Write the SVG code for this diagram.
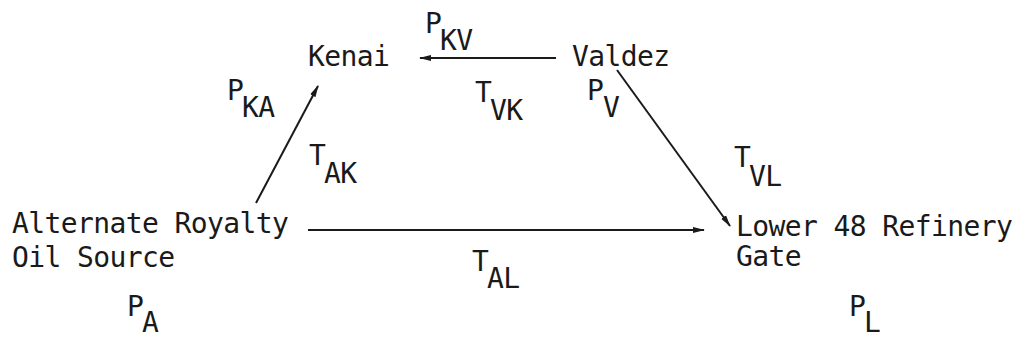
<svg xmlns="http://www.w3.org/2000/svg" width="1015" height="340" viewBox="0 0 1015 340">
  <style>
    text { font-family: "DejaVu Sans Mono", "Liberation Mono", monospace; font-size: 28px; fill: #1a1a1a; letter-spacing: -0.6px; }
    .conn { stroke: #1a1a1a; stroke-width: 2; fill: none; }
  </style>
  <defs>
    <marker id="arr" viewBox="0 0 12 8" refX="11" refY="4" markerWidth="12" markerHeight="8" markerUnits="userSpaceOnUse" orient="auto">
      <path d="M0,1 L12,4 L0,7 Z" fill="#1a1a1a"/>
    </marker>
  </defs>
  <rect width="1015" height="340" fill="#ffffff"/>

  <g id="connectors">
    <line class="conn" x1="556" y1="58" x2="420" y2="58" marker-end="url(#arr)"/>
    <line class="conn" x1="256" y1="203" x2="318" y2="86" marker-end="url(#arr)"/>
    <line class="conn" x1="617" y1="70" x2="730" y2="226" marker-end="url(#arr)"/>
    <line class="conn" x1="308" y1="230" x2="704" y2="230" marker-end="url(#arr)"/>
    <g id="transport-labels">
      <text><tspan x="475" y="102">T</tspan><tspan x="490" y="120">VK</tspan></text>
      <text><tspan x="309" y="165">T</tspan><tspan x="324" y="183">AK</tspan></text>
      <text><tspan x="734" y="167">T</tspan><tspan x="749" y="186">VL</tspan></text>
      <text><tspan x="472" y="271">T</tspan><tspan x="487" y="288">AL</tspan></text>
    </g>
  </g>

  <g id="node-kenai">
    <text x="308" y="66">Kenai</text>
  </g>
  <g id="node-valdez">
    <text x="572" y="66">Valdez</text>
    <text><tspan x="587" y="100">P</tspan><tspan x="603" y="117">V</tspan></text>
  </g>
  <g id="node-alternate">
    <text x="12" y="233">Alternate Royalty</text>
    <text x="12" y="267">Oil Source</text>
    <text><tspan x="127" y="316">P</tspan><tspan x="142" y="332">A</tspan></text>
  </g>
  <g id="node-lower48">
    <text x="736" y="236">Lower 48 Refinery</text>
    <text x="736" y="266">Gate</text>
    <text><tspan x="849" y="316">P</tspan><tspan x="864" y="332">L</tspan></text>
  </g>
  <g id="price-labels">
    <text><tspan x="425" y="33">P</tspan><tspan x="440" y="50">KV</tspan></text>
    <text><tspan x="227" y="100">P</tspan><tspan x="242" y="117">KA</tspan></text>
  </g>
</svg>
